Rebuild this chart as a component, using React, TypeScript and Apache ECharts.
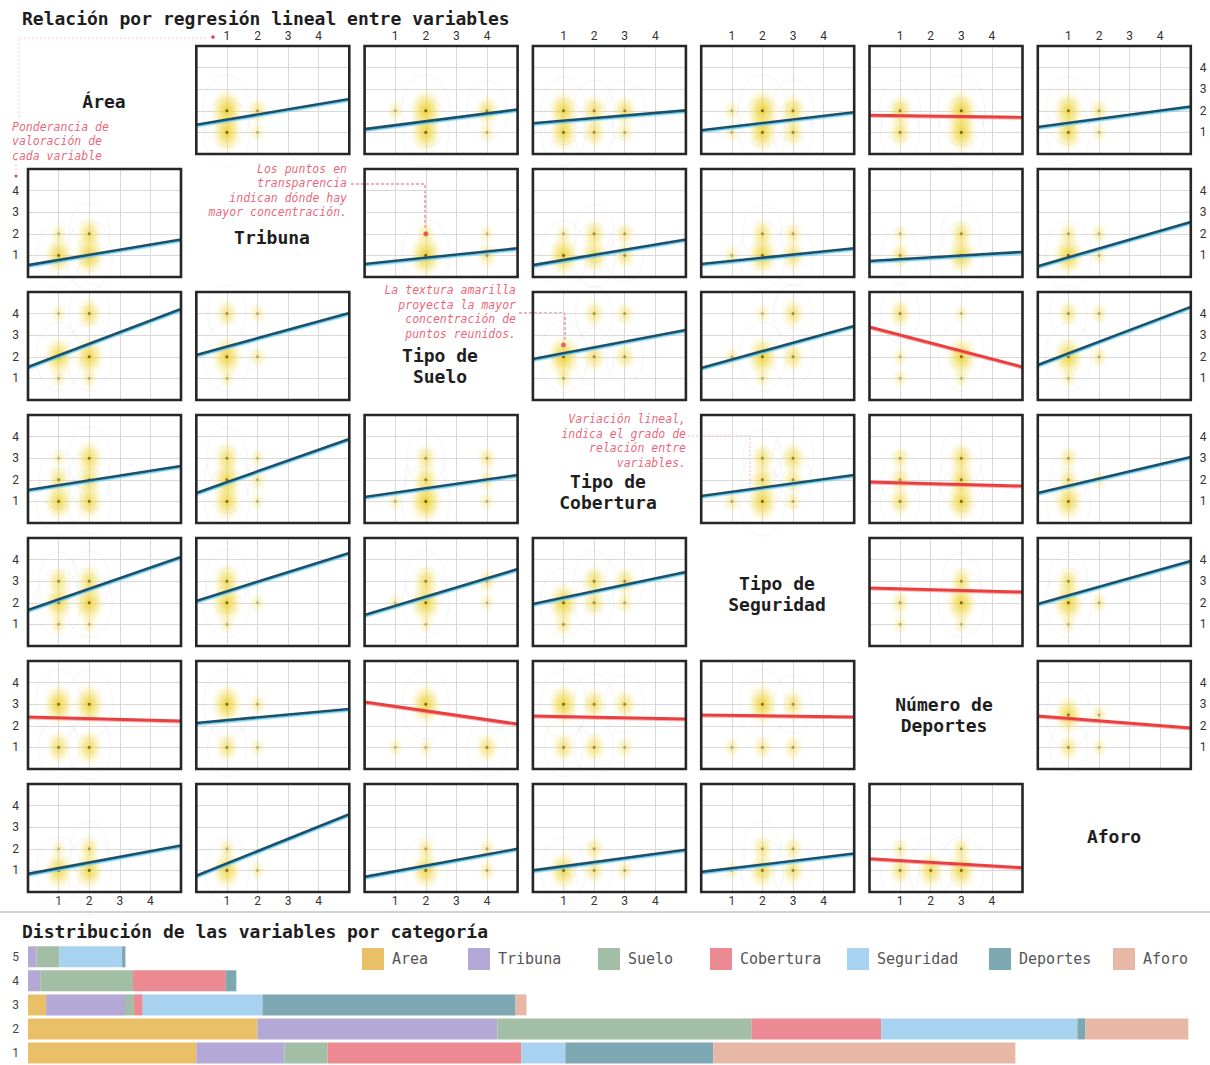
import React, { useEffect, useRef } from "react";
import * as echarts from "echarts";

// ---------- Scatter-matrix variables ----------
const variableLabels = ["Área", "Tribuna", "Tipo de\nSuelo", "Tipo de\nCobertura", "Tipo de\nSeguridad", "Número de\nDeportes", "Aforo"];
const tickLabels = ["1", "2", "3", "4"];

// Regression line values [y at x=0, y at x=5] per row (null on the diagonal)
const regressionRow0 = [null, [1.35, 2.55], [1.15, 2.06], [1.42, 2.02], [1.1, 1.93], [1.79, 1.7], [1.25, 2.2]];
const regressionRow1 = [[0.55, 1.74], null, [0.6, 1.33], [0.55, 1.74], [0.6, 1.33], [0.74, 1.16], [0.5, 2.55]];
const regressionRow2 = [[1.53, 4.21], [2.08, 4.03], null, [1.9, 3.24], [1.48, 3.43], [3.38, 1.53], [1.62, 4.31]];
const regressionRow3 = [[1.53, 2.64], [1.39, 3.89], [1.2, 2.22], null, [1.25, 2.22], [1.9, 1.71], [1.39, 3.06]];
const regressionRow4 = [[1.67, 4.12], [2.08, 4.31], [1.44, 3.56], [1.94, 3.43], null, [2.69, 2.5], [1.94, 3.94]];
const regressionRow5 = [[2.41, 2.22], [2.13, 2.78], [3.1, 2.08], [2.45, 2.31], [2.5, 2.41], null, [2.45, 1.9]];
const regressionRow6 = [[0.84, 2.15], [0.75, 3.6], [0.7, 2.0], [1.0, 1.96], [0.93, 1.78], [1.54, 1.12], null];

// Point concentration [x, y, weight] per panel
const densityRow0 = [
  null,
  [[1, 2, 1], [1, 1, 0.9], [2, 2, 0.35], [2, 1, 0.1]],
  [[1, 2, 0.15], [2, 2, 1], [2, 1, 0.9], [4, 2, 0.55], [4, 1, 0.15]],
  [[1, 2, 0.85], [1, 1, 0.8], [2, 2, 0.6], [2, 1, 0.5], [3, 2, 0.55], [3, 1, 0.2]],
  [[1, 2, 0.15], [1, 1, 0.1], [2, 2, 1], [2, 1, 0.85], [3, 2, 0.65], [3, 1, 0.5]],
  [[1, 2, 0.6], [1, 1, 0.5], [3, 2, 0.95], [3, 1, 0.9]],
  [[1, 2, 0.85], [1, 1, 0.75], [2, 2, 0.3], [2, 1, 0.1]],
];
const densityRow1 = [
  [[1, 1, 0.8], [2, 1, 0.9], [2, 2, 0.6], [1, 2, 0.15]],
  null,
  [[2, 1, 1], [2, 2, 0.25], [4, 1, 0.35], [4, 2, 0.1]],
  [[1, 1, 0.9], [2, 1, 0.7], [2, 2, 0.5], [3, 1, 0.4], [3, 2, 0.3], [1, 2, 0.15]],
  [[1, 1, 0.15], [2, 1, 0.85], [2, 2, 0.5], [3, 1, 0.55], [3, 2, 0.3]],
  [[1, 1, 0.4], [1, 2, 0.1], [3, 1, 0.8], [3, 2, 0.5]],
  [[1, 1, 0.9], [1, 2, 0.3], [2, 1, 0.15], [2, 2, 0.15]],
];
const densityRow2 = [
  [[1, 2, 0.85], [2, 2, 0.85], [2, 4, 0.6], [1, 4, 0.1], [1, 1, 0.1], [2, 1, 0.15]],
  [[1, 2, 0.9], [1, 4, 0.45], [2, 2, 0.2], [2, 4, 0.15], [1, 1, 0.1]],
  null,
  [[1, 2, 1], [1, 1, 0.2], [2, 2, 0.5], [3, 2, 0.4], [2, 4, 0.4], [3, 4, 0.3]],
  [[1, 2, 0.15], [2, 2, 0.9], [2, 1, 0.1], [3, 2, 0.5], [3, 4, 0.5], [2, 4, 0.1]],
  [[1, 4, 0.5], [1, 2, 0.1], [1, 1, 0.1], [3, 2, 0.9], [3, 4, 0.1], [3, 1, 0.1]],
  [[1, 2, 0.9], [1, 4, 0.4], [1, 1, 0.1], [2, 2, 0.2], [2, 4, 0.2]],
];
const densityRow3 = [
  [[1, 1, 0.8], [1, 2, 0.5], [1, 3, 0.1], [2, 1, 0.75], [2, 2, 0.6], [2, 3, 0.7]],
  [[1, 1, 0.8], [1, 2, 0.8], [1, 3, 0.6], [2, 1, 0.1], [2, 2, 0.2], [2, 3, 0.1]],
  [[1, 1, 0.1], [2, 1, 1], [2, 2, 0.6], [2, 3, 0.45], [4, 1, 0.1], [4, 2, 0.2], [4, 3, 0.3]],
  null,
  [[1, 1, 0.2], [2, 1, 0.9], [2, 2, 0.6], [2, 3, 0.5], [3, 1, 0.2], [3, 2, 0.4], [3, 3, 0.6]],
  [[1, 1, 0.5], [1, 2, 0.4], [1, 3, 0.3], [3, 1, 0.85], [3, 2, 0.7], [3, 3, 0.6]],
  [[1, 1, 0.8], [1, 2, 0.4], [1, 3, 0.3], [2, 2, 0.1]],
];
const densityRow4 = [
  [[1, 1, 0.2], [1, 2, 0.8], [1, 3, 0.5], [2, 1, 0.1], [2, 2, 0.9], [2, 3, 0.6]],
  [[1, 1, 0.1], [1, 2, 0.9], [1, 3, 0.7], [2, 2, 0.1]],
  [[1, 2, 0.1], [2, 1, 0.1], [2, 2, 0.9], [2, 3, 0.6], [4, 2, 0.1], [4, 3, 0.3]],
  [[1, 1, 0.3], [1, 2, 0.9], [2, 2, 0.5], [2, 3, 0.6], [3, 2, 0.2], [3, 3, 0.5]],
  null,
  [[1, 1, 0.1], [1, 2, 0.3], [3, 1, 0.1], [3, 2, 0.9], [3, 3, 0.5]],
  [[1, 1, 0.1], [1, 2, 0.9], [1, 3, 0.5], [2, 2, 0.2]],
];
const densityRow5 = [
  [[1, 1, 0.6], [1, 3, 0.9], [2, 1, 0.7], [2, 3, 0.9]],
  [[1, 1, 0.5], [1, 3, 0.9], [2, 1, 0.1], [2, 3, 0.2]],
  [[1, 1, 0.1], [2, 1, 0.1], [2, 3, 0.9], [4, 1, 0.5]],
  [[1, 1, 0.5], [1, 3, 0.9], [2, 1, 0.5], [2, 3, 0.6], [3, 1, 0.2], [3, 3, 0.5]],
  [[1, 1, 0.15], [2, 1, 0.3], [2, 3, 0.9], [3, 1, 0.3], [3, 3, 0.5]],
  null,
  [[1, 1, 0.4], [1, 2.5, 0.8], [2, 1, 0.1], [2, 2.5, 0.2]],
];
const densityRow6 = [
  [[1, 1, 0.8], [1, 2, 0.1], [2, 1, 0.8], [2, 2, 0.4]],
  [[1, 1, 0.8], [1, 2, 0.2], [2, 1, 0.1]],
  [[2, 1, 0.8], [2, 2, 0.3], [4, 1, 0.2], [4, 2, 0.2]],
  [[1, 1, 0.8], [2, 1, 0.4], [2, 2, 0.3], [3, 1, 0.2]],
  [[1, 1, 0.1], [2, 1, 0.7], [2, 2, 0.4], [3, 1, 0.5], [3, 2, 0.3]],
  [[1, 1, 0.5], [1, 2, 0.2], [2, 1, 0.7], [3, 1, 0.8], [3, 2, 0.3]],
  null,
];

// Highlighted points referenced by annotations [row, col, x, y]
const highlightPoints = [[1, 2, 2, 2], [2, 3, 1, 2.55]];

// ---------- Distribution bars (percent per category 1..5) ----------
const barCategories = ["1", "2", "3", "4", "5"];
const legendNames = ["Area", "Tribuna", "Suelo", "Cobertura", "Seguridad", "Deportes", "Aforo"];
const areaPct = [39.9, 54.4, 4.3, 0, 0];
const tribunaPct = [20.9, 56.9, 18.7, 2.9, 2.0];
const sueloPct = [10.2, 60.2, 2.1, 22.0, 5.5];
const coberturaPct = [46.0, 30.8, 2.1, 22.0, 0];
const seguridadPct = [10.4, 46.5, 28.4, 0, 14.8];
const deportesPct = [35.1, 1.9, 60.0, 2.5, 0.8];
const aforoPct = [71.6, 24.4, 2.6, 0, 0];

const barColors = ["#e9c068", "#b3a8d6", "#a2bea4", "#eb8a92", "#a7d3f1", "#7da7b1", "#e8b8a6"];

const MONO = "DejaVu Sans Mono";
const RED = "#e8475e";

function buildOption() {
  const regressions = [regressionRow0, regressionRow1, regressionRow2, regressionRow3, regressionRow4, regressionRow5, regressionRow6];
  const densities = [densityRow0, densityRow1, densityRow2, densityRow3, densityRow4, densityRow5, densityRow6];
  const pcts = [areaPct, tribunaPct, sueloPct, coberturaPct, seguridadPct, deportesPct, aforoPct];

  const COL0 = 28, COLSTEP = 168.3, PW = 153;
  const ROW0 = 46, ROWSTEP = 123, PH = 108;

  const grids: any[] = [];
  const xAxes: any[] = [];
  const yAxes: any[] = [];
  const series: any[] = [];
  const fmt = (v: number) => tickLabels[v - 1] ?? "";

  let gi = 0;
  for (let r = 0; r < 7; r++) {
    for (let c = 0; c < 7; c++) {
      if (r === c) continue;
      grids.push({
        left: COL0 + c * COLSTEP,
        top: ROW0 + r * ROWSTEP,
        width: PW,
        height: PH,
        show: false,
      });
      const showTop = r === 0;
      const showBottom = r === 6;
      xAxes.push({
        gridIndex: gi,
        type: "value",
        min: 0,
        max: 5,
        interval: 1,
        position: showTop ? "top" : "bottom",
        axisLine: { show: false },
        axisTick: { show: false },
        axisLabel: {
          show: showTop || showBottom,
          formatter: fmt,
          margin: showTop ? 4 : 3,
          color: "#333",
          fontSize: 12,
          fontFamily: "Roboto",
        },
        splitLine: { show: true, lineStyle: { color: "#d9d9d9", width: 1 } },
      });
      const showLeft = c === 0;
      const showRight = c === 6;
      yAxes.push({
        gridIndex: gi,
        type: "value",
        min: 0,
        max: 5,
        interval: 1,
        position: showRight ? "right" : "left",
        axisLine: { show: false },
        axisTick: { show: false },
        axisLabel: {
          show: showLeft || showRight,
          formatter: fmt,
          margin: 9,
          color: "#333",
          fontSize: 12,
          fontFamily: "Roboto",
        },
        splitLine: { show: true, lineStyle: { color: "#d9d9d9", width: 1 } },
      });

      const pts = densities[r][c] as number[][];
      // contour rings
      series.push({
        type: "scatter",
        xAxisIndex: gi,
        yAxisIndex: gi,
        silent: true,
        z: 2,
        data: pts
          .filter((p) => p[2] >= 0.4)
          .map((p) => ({
            value: p,
            symbolSize: [30 + 18 * p[2], 44 + 28 * p[2]],
            itemStyle: { color: "rgba(255,255,255,0)", borderColor: "rgba(130,130,130,0.13)", borderWidth: 0.8 },
          })),
      });
      // yellow blobs
      series.push({
        type: "scatter",
        xAxisIndex: gi,
        yAxisIndex: gi,
        silent: true,
        z: 3,
        data: pts.map((p) => ({
          value: p,
          symbolSize: [16 + 18 * p[2], 20 + 26 * p[2]],
          itemStyle: {
            opacity: 0.3 + 0.7 * p[2],
            color: {
              type: "radial",
              x: 0.5,
              y: 0.5,
              r: 0.5,
              colorStops: [
                { offset: 0, color: "rgba(236,205,40,0.95)" },
                { offset: 0.45, color: "rgba(240,218,80,0.6)" },
                { offset: 1, color: "rgba(250,238,170,0)" },
              ],
            },
          },
        })),
      });
      // dots
      series.push({
        type: "scatter",
        xAxisIndex: gi,
        yAxisIndex: gi,
        silent: true,
        z: 4,
        symbolSize: 3,
        data: pts.map((p) => ({
          value: p,
          itemStyle: { color: `rgba(70,55,20,${0.25 + 0.7 * p[2]})` },
        })),
      });
      // highlighted points
      const hl = highlightPoints.filter((h) => h[0] === r && h[1] === c);
      if (hl.length) {
        series.push({
          type: "scatter",
          xAxisIndex: gi,
          yAxisIndex: gi,
          silent: true,
          z: 7,
          symbolSize: 5,
          itemStyle: { color: "#e8404f" },
          data: hl.map((h) => [h[2], h[3]]),
        });
      }
      // regression line
      const reg = regressions[r][c] as number[];
      const negative = reg[1] < reg[0];
      series.push({
        type: "line",
        xAxisIndex: gi,
        yAxisIndex: gi,
        silent: true,
        z: 6,
        symbol: "none",
        data: [[0, reg[0]], [5, reg[1]]],
        lineStyle: negative
          ? { color: "#e8403f", width: 3, shadowColor: "rgba(255,140,140,0.7)", shadowOffsetY: 1, shadowBlur: 0 }
          : { color: "#1d4f67", width: 2.6, shadowColor: "rgba(100,200,240,0.95)", shadowOffsetY: 1.4, shadowBlur: 0 },
      });
      gi++;
    }
  }

  // bar chart grid
  const barGrid = gi;
  grids.push({ left: 28, top: 944.75, width: 1162, height: 122.5 });
  xAxes.push({ gridIndex: barGrid, type: "value", min: 0, max: 275.5, show: false });
  yAxes.push({
    gridIndex: barGrid,
    type: "category",
    data: barCategories,
    axisLine: { show: false },
    axisTick: { show: false },
    axisLabel: { margin: 9, color: "#444", fontSize: 12, fontFamily: "Roboto" },
  });
  legendNames.forEach((n, i) => {
    series.push({
      name: n,
      type: "bar",
      stack: "dist",
      xAxisIndex: barGrid,
      yAxisIndex: barGrid,
      barWidth: 21,
      silent: true,
      itemStyle: { color: barColors[i] },
      data: pcts[i],
    });
  });

  const legendLeft = [362, 468, 598, 710, 847, 989, 1113];
  const legends = legendNames.map((n, i) => ({
    data: [n],
    left: legendLeft[i],
    top: 948,
    padding: 0,
    itemWidth: 22,
    itemHeight: 22,
    icon: "rect",
    selectedMode: false,
    textStyle: { fontFamily: MONO, fontSize: 15, color: "#555", padding: [0, 0, 0, 3] },
  }));

  // diagonal labels, panel frames & annotations
  const diagPos = [
    [104, 101], [272, 237], [440, 366], [608, 492], [777, 594], [944, 715], [1114, 836],
  ];
  const graphic: any[] = [];
  for (let r = 0; r < 7; r++) {
    for (let c = 0; c < 7; c++) {
      if (r === c) continue;
      graphic.push({
        type: "rect",
        z: 20,
        silent: true,
        shape: { x: COL0 + c * COLSTEP, y: ROW0 + r * ROWSTEP, width: PW, height: PH },
        style: { fill: null, stroke: "#262626", lineWidth: 2.6 },
      });
    }
  }
  variableLabels.forEach((t, i) => {
    graphic.push({
      type: "text",
      x: diagPos[i][0],
      y: diagPos[i][1],
      z: 10,
      style: {
        text: t,
        fontFamily: MONO,
        fontWeight: "bold",
        fontSize: 18,
        lineHeight: 21,
        fill: "#1e1e1e",
        textAlign: "center",
        textVerticalAlign: "middle",
      },
    });
  });
  graphic.push({
    type: "text",
    x: 22,
    y: 18,
    style: { text: "Relación por regresión lineal entre variables", fontFamily: MONO, fontWeight: "bold", fontSize: 18, fill: "#1e1e1e", textVerticalAlign: "middle" },
  });
  graphic.push({
    type: "text",
    x: 22,
    y: 931,
    style: { text: "Distribución de las variables por categoría", fontFamily: MONO, fontWeight: "bold", fontSize: 18, fill: "#1e1e1e", textVerticalAlign: "middle" },
  });
  graphic.push({ type: "line", shape: { x1: 0, y1: 912, x2: 1210, y2: 912 }, style: { stroke: "#d2d2d2", lineWidth: 2 } });

  const annoStyle = (text: string, align: string) => ({
    text,
    fontFamily: MONO,
    fontStyle: "italic",
    fontSize: 11.5,
    lineHeight: 14.5,
    fill: RED,
    opacity: 0.85,
    textAlign: align,
    textVerticalAlign: "middle",
  });
  graphic.push({ type: "text", x: 12, y: 141, style: annoStyle("Ponderancia de\nvaloración de\ncada variable", "left") });
  graphic.push({ type: "text", x: 347, y: 190.5, style: annoStyle("Los puntos en\ntransparencia\nindican dónde hay\nmayor concentración.", "right") });
  graphic.push({ type: "text", x: 516, y: 312, style: annoStyle("La textura amarilla\nproyecta la mayor\nconcentración de\npuntos reunidos.", "right") });
  graphic.push({ type: "text", x: 686, y: 441, style: annoStyle("Variación lineal,\nindica el grado de\nrelación entre\nvariables.", "right") });

  const faint = { stroke: "rgba(232,90,106,0.35)", lineWidth: 1, lineDash: [2, 2], fill: null };
  const leader = { stroke: "rgba(232,64,80,0.85)", lineWidth: 1, lineDash: [3, 2], fill: null };
  graphic.push({ type: "polyline", shape: { points: [[206, 38], [19, 38], [19, 118]] }, style: faint });
  graphic.push({ type: "circle", shape: { cx: 213, cy: 37, r: 1.8 }, style: { fill: "#e8404f" } });
  graphic.push({ type: "line", shape: { x1: 16, y1: 160, x2: 16, y2: 173 }, style: faint });
  graphic.push({ type: "circle", shape: { cx: 16, cy: 176, r: 1.5 }, style: { fill: "#e8404f" } });
  graphic.push({ type: "polyline", shape: { points: [[351, 184], [425, 184], [425, 230]] }, style: leader });
  graphic.push({ type: "polyline", shape: { points: [[519, 313], [565, 313], [565, 342]] }, style: leader });
  graphic.push({ type: "polyline", shape: { points: [[688, 436], [750, 436], [750, 490]] }, style: { ...faint, stroke: "rgba(232,90,106,0.45)" } });

  return {
    animation: false,
    backgroundColor: "#fff",
    grid: grids,
    xAxis: xAxes,
    yAxis: yAxes,
    legend: legends,
    series,
    graphic,
  };
}

export default function App() {
  const ref = useRef<HTMLDivElement>(null);
  useEffect(() => {
    const chart = echarts.init(ref.current!, null, { renderer: "svg" });
    chart.setOption(buildOption() as any);
    return () => chart.dispose();
  }, []);
  return <div ref={ref} style={{ position: "absolute", left: 0, top: 0, width: 1210, height: 1065, background: "#fff" }} />;
}
